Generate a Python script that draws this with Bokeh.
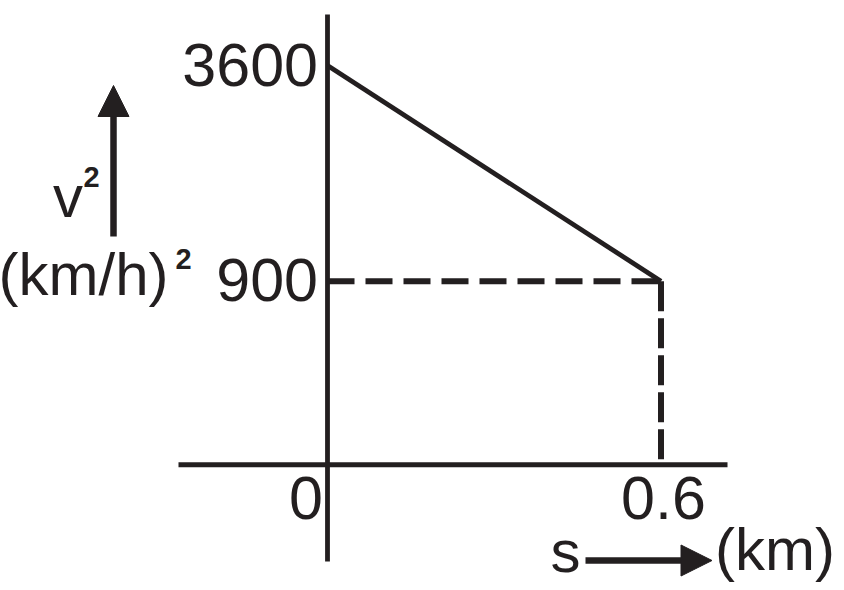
from bokeh.plotting import figure
from bokeh.models import Range1d, Arrow, NormalHead
from bokeh.core.properties import value
from bokeh.embed import file_html
from bokeh.resources import INLINE

# ---------------- data ----------------
s_km = [0.0, 0.6]                 # distance (km)
v2 = [3600, 900]                  # v^2 (km/h)^2
y_tick_values = [3600, 900]
y_tick_labels = ["3600", "900"]
x_origin_value = [0.0]
x_origin_label = ["0"]
x_end_value = [0.6]
x_end_label = ["0.6"]
y_label = ["v"]
y_label_sup = ["2"]
y_unit = ["(km/h)"]
y_unit_sup = ["2"]
x_label = ["s"]
x_unit = ["(km)"]

# ---------------- layout (schematic, not to scale) ----------------
W, H = 844, 590
M = 0
INK = "#231f20"
FONT = value("Liberation Sans")
SHIFT = 0.375   # renderer places alphabetic baseline this many em too low

X0_IMG, X1_IMG = 327.0, 660.5          # image px of s = 0 and s = 0.6
YTOP_IMG, YBOT_IMG = 65.0, 280.7       # image px of v2 = 3600 and v2 = 900
AXIS_Y_IMG = 464.3                     # image px of the horizontal axis

kx = (X1_IMG - X0_IMG) / (s_km[1] - s_km[0])
ky = (YBOT_IMG - YTOP_IMG) / (v2[0] - v2[1])
x_start = s_km[0] - (X0_IMG - M) / kx
x_end = x_start + W / kx
y_end = v2[0] + (YTOP_IMG - M) / ky
y_start = y_end - H / ky


def X(px):
    return x_start + (px - M) / kx


def Y(py):
    return y_end - (py - M) / ky


axis_y = Y(AXIS_Y_IMG)

p = figure(width=W, height=H, output_backend="svg", toolbar_location=None,
           x_range=Range1d(x_start, x_end), y_range=Range1d(y_start, y_end),
           min_border=0, outline_line_color=None,
           background_fill_color="white", border_fill_color="white")
p.xaxis.visible = False
p.yaxis.visible = False
p.xgrid.visible = False
p.ygrid.visible = False

# axes lines
p.segment(x0=[0.0], y0=[Y(14)], x1=[0.0], y1=[Y(561)], line_width=4.8, line_color=INK)
p.segment(x0=[X(178)], y0=[axis_y], x1=[X(727)], y1=[axis_y], line_width=5, line_color=INK)

# dashed guides
p.line([0.0, s_km[1]], [v2[1], v2[1]], line_width=6, line_color=INK, line_dash="27 11")
p.line([s_km[1], s_km[1]], [v2[1], axis_y], line_width=6, line_color=INK, line_dash="30 7")

# main line
p.line(s_km, v2, line_width=4.8, line_color=INK, line_join="round")

# tick labels
TS = 61
p.text(x=[0.0] * len(y_tick_values), y=y_tick_values, text=y_tick_labels,
       text_align="right", text_baseline="alphabetic", x_offset=-9.5, y_offset=22 - SHIFT * TS,
       text_font=FONT, text_font_size=f"{TS}px", text_color=INK)
p.text(x=x_origin_value, y=[axis_y], text=x_origin_label,
       text_align="right", text_baseline="alphabetic", x_offset=-4.5, y_offset=56 - SHIFT * TS,
       text_font=FONT, text_font_size=f"{TS}px", text_color=INK)
p.text(x=x_end_value, y=[axis_y], text=x_end_label,
       text_align="center", text_baseline="alphabetic", x_offset=2.5, y_offset=56 - SHIFT * TS,
       text_font=FONT, text_font_size=f"{TS}px", text_color=INK)

# axis titles
def txt(x, y, t, size, style="normal"):
    p.text(x=[X(x)], y=[Y(y - SHIFT * size)], text=t, text_align="left",
           text_baseline="alphabetic", text_font=FONT, text_font_size=f"{size}px",
           text_font_style=style, text_color=INK)

txt(52.5, 218, y_label, 60)
txt(83, 187, y_label_sup, 29, "bold")
txt(-2, 296, y_unit, 60)
txt(175, 269, y_unit_sup, 29, "bold")
txt(550, 573, x_label, 60)
txt(714.5, 571, x_unit, 60)

# arrows
p.add_layout(Arrow(end=NormalHead(size=31, fill_color=INK, line_color=INK, line_width=1),
                   x_start=X(113), y_start=Y(236), x_end=X(113), y_end=Y(85),
                   line_width=6.5, line_color=INK))
p.add_layout(Arrow(end=NormalHead(size=31, fill_color=INK, line_color=INK, line_width=1),
                   x_start=X(585), y_start=Y(560), x_end=X(711.5), y_end=Y(560),
                   line_width=6.5, line_color=INK))

open("out.html", "w").write(file_html(p, INLINE))
